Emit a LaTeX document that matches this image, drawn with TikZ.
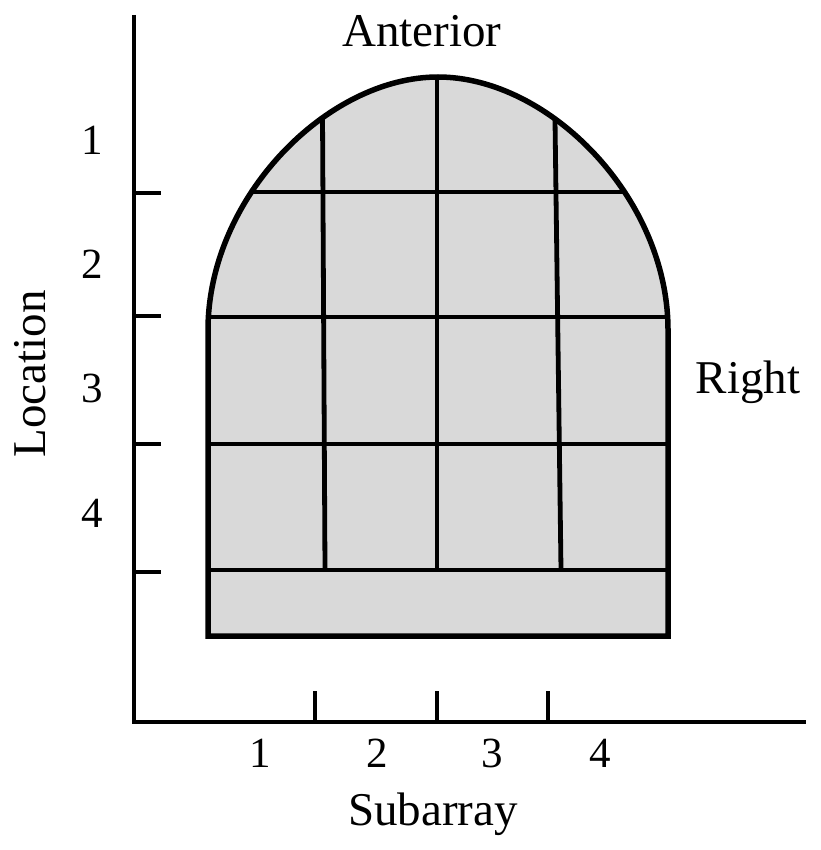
\documentclass[tikz,border=0pt]{standalone}
\usepackage{fontspec}
\setmainfont{Liberation Serif}
\definecolor{panel}{RGB}{217,217,217}
\begin{document}
\begin{tikzpicture}[x=1pt,y=-1pt,
    axis/.style={line width=3.8pt,line join=miter},
    gridline/.style={line width=4.8pt},
    lbl/.style={font=\fontsize{47}{50}\selectfont,inner sep=0pt,anchor=base},
    num/.style={font=\fontsize{43}{46}\selectfont,inner sep=0pt,anchor=base}]
  \useasboundingbox (0,0) rectangle (820,850);
  \fill[panel] (208,636) -- (208,330) .. controls (208,198) and (327,77) .. (438,77)
    .. controls (549,77) and (668,198) .. (668,330) -- (668,636) -- cycle;
  \begin{scope}
    \clip (208,636) -- (208,330) .. controls (208,198) and (327,77) .. (438,77)
      .. controls (549,77) and (668,198) .. (668,330) -- (668,636) -- cycle;
    \foreach \y in {192,317,444,570} \draw[gridline] (190,\y) -- (690,\y);
    \draw[gridline] (322.2,60) -- (325,570);
    \draw[gridline] (437,60) -- (437,570);
    \draw[gridline] (554.2,60) -- (561,570);
  \end{scope}
  \draw[line width=5.5pt] (208,636) -- (208,330) .. controls (208,198) and (327,77) .. (438,77)
    .. controls (549,77) and (668,198) .. (668,330) -- (668,636) -- cycle;
  \coordinate (o) at (134,722);
  \coordinate (ytop) at (134,15);
  \coordinate (xend) at (806,722);
  \draw[axis] (ytop) -- (o) -- (xend);
  \foreach \y in {193,316,444,572} \draw[axis] (134,\y) -- (161,\y);
  \foreach \x in {315,437,548} \draw[axis] (\x,722) -- (\x,691);
  \foreach \n/\y in {1/155,2/278,3/402,4/527}
    \node[num] (loc\n) at (92,\y) {\n};
  \foreach \n/\x in {1/260,2/377,3/492,4/600}
    \node[num] (sub\n) at (\x,767) {\n};
  \node[lbl] (anterior) at (422,47) {Anterior};
  \node[lbl] (right) at (748,393) {Right};
  \node[lbl] (subarray) at (433,825) {Subarray};
  \node[lbl,rotate=90] (location) at (45,374) {Location};
\end{tikzpicture}
\end{document}
